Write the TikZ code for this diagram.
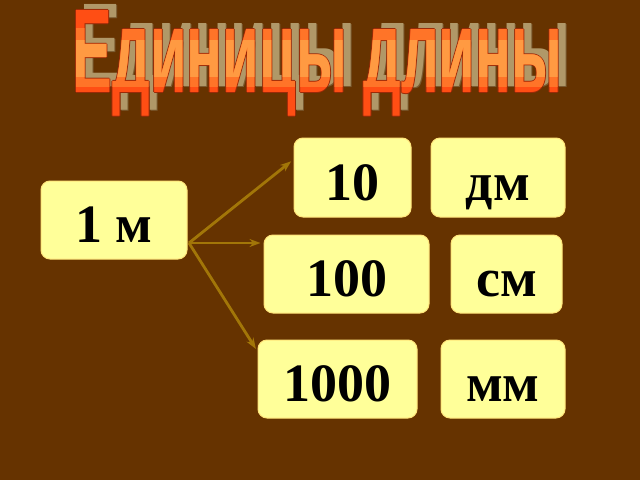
\documentclass[tikz,border=0pt]{standalone}
\usepackage{fontspec}
\usepackage{graphicx}
\setmainfont{Liberation Serif}
\newfontfamily\titlefont{Liberation Sans}
\usetikzlibrary{arrows.meta}

\definecolor{bgbrown}{HTML}{663300}
\definecolor{boxyellow}{HTML}{FFFF99}
\definecolor{arrowgold}{HTML}{A27608}
\definecolor{titleedge}{HTML}{9A2A08}
\definecolor{titleorange}{HTML}{FF4E14}
\definecolor{titlemid}{HTML}{FF7428}
\definecolor{titlelight}{HTML}{FF9A42}
\definecolor{titleshadow}{HTML}{B09868}
\definecolor{shadowedge}{HTML}{7A5A30}

\tikzset{
  unitbox/.style={fill=boxyellow, draw=boxyellow!80!orange, line width=1pt,
    rounded corners=9pt, inner sep=0pt, text height=45pt, text depth=0pt,
    font=\fontsize{54}{60}\selectfont\bfseries},
  fork/.style={-{Stealth[length=11pt,width=8pt]}, draw=arrowgold,
    line width=2.8pt, shorten >=3pt},
  titletext/.style={anchor=base, inner sep=0pt}
}

\newcommand{\titleword}{\resizebox{489pt}{82pt}{\titlefont\bfseries Единицы длины}}

\begin{document}
\begin{tikzpicture}[x=1pt,y=-1pt]

  \fill[bgbrown] (0,0) rectangle (640,480);
  \useasboundingbox (0,0) rectangle (640,480);

  % title: shadow, dark edge, then banded orange
  \node[titletext, text=shadowedge] (shadowrim) at (326.5,87) {\titleword};
  \node[titletext, text=titleshadow] (shadow) at (325.5,86) {\titleword};
  \foreach \dx/\dy in {-1/0, 1/0, 0/-1, 0/1}
    \node[titletext, text=titleedge] at (317.5+\dx,92+\dy) {\titleword};
  \node[titletext, text=titleorange] (title) at (317.5,92) {\titleword};
  \begin{scope}
    \clip (0,28) rectangle (640,86);
    \node[titletext, text=titlemid] (titlemidband) at (317.5,92) {\titleword};
  \end{scope}
  \begin{scope}
    \clip (0,40) rectangle (640,76);
    \node[titletext, text=titlelight] (titlelightband) at (317.5,92) {\titleword};
  \end{scope}

  \node[unitbox, minimum width=146pt, minimum height=78pt] (metre) at (114,220) {1 м};

  \node[unitbox, minimum width=117pt, minimum height=79pt] (ten) at (352.5,177.5) {10};
  \node[unitbox, minimum width=134pt, minimum height=79pt] (dm) at (498,177.5) {дм};

  \node[unitbox, minimum width=165pt, minimum height=78pt] (hundred) at (346.5,274) {100};
  \node[unitbox, minimum width=111pt, minimum height=78pt] (cm) at (506.5,274) {см};

  \node[unitbox, minimum width=159pt, minimum height=78pt] (thousand) at (337.5,379) {1000};
  \node[unitbox, minimum width=124pt, minimum height=78pt] (mm) at (503,379) {мм};

  \coordinate (split) at (189,243);

  \draw[fork] (split) -- (ten.163);
  \draw[fork] (split) -- (split -| hundred.west);
  \draw[fork] (split) -- (thousand.161);

\end{tikzpicture}
\end{document}
